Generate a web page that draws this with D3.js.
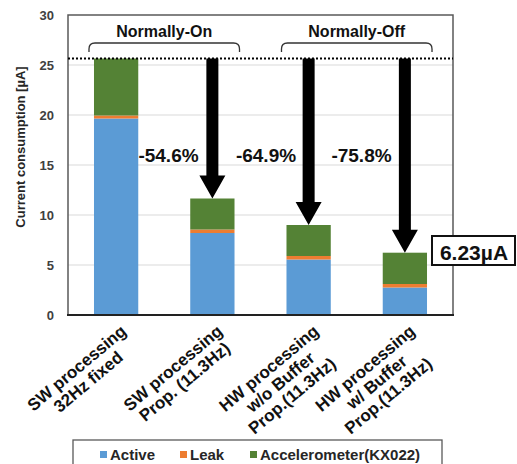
<!DOCTYPE html>
<html>
<head>
<meta charset="utf-8">
<script src="https://cdn.jsdelivr.net/npm/d3@7"></script>
<style>
  html, body { margin: 0; padding: 0; background: #fff; }
  svg { display: block; font-family: "Liberation Sans", Arial, sans-serif; }
</style>
</head>
<body>
<svg id="chart" width="517" height="464"></svg>
<script>
// ---------- data ----------
const categories = ["SW processing 32Hz fixed", "SW processing Prop. (11.3Hz)",
  "HW processing w/o Buffer Prop.(11.3Hz)", "HW processing w/ Buffer Prop.(11.3Hz)"];
const categoryLines = [
  ["SW processing", "32Hz fixed"],
  ["SW processing", "Prop. (11.3Hz)"],
  ["HW processing", "w/o Buffer", "Prop.(11.3Hz)"],
  ["HW processing", "w/ Buffer", "Prop.(11.3Hz)"]
];
const seriesNames = ["Active", "Leak", "Accelerometer(KX022)"];
const active = [19.65, 8.2, 5.55, 2.75];
const leak = [0.3, 0.35, 0.35, 0.35];
const accelerometer = [5.7, 3.1, 3.1, 3.13];
const reductionLabels = ["-54.6%", "-64.9%", "-75.8%"];
const groupLabels = ["Normally-On", "Normally-Off"];
const groupSpans = [[0, 1], [2, 3]];
const yTicks = [0, 5, 10, 15, 20, 25, 30];
const finalLabel = "6.23µA";
const colors = ["#5B9BD5", "#ED7D31", "#548235"];

// ---------- layout ----------
const svg = d3.select("#chart");
const pL = 68, pR = 453, pT = 15, pB = 315;

const x = d3.scaleBand().domain(categories).range([pL, pR])
  .paddingInner(0.54).paddingOuter(0.27);
const y = d3.scaleLinear().domain([0, 30]).range([pB, pT]);

const rows = categories.map((c, i) => ({ cat: c, Active: active[i], Leak: leak[i], "Accelerometer(KX022)": accelerometer[i] }));
const stacked = d3.stack().keys(seriesNames)(rows);
const totals = categories.map((c, i) => active[i] + leak[i] + accelerometer[i]);

// gridlines
svg.append("g").selectAll("line").data(yTicks.filter(t => t > 0 && t < 30)).join("line")
  .attr("x1", pL).attr("x2", pR)
  .attr("y1", d => y(d)).attr("y2", d => y(d))
  .attr("stroke", "#d9d9d9").attr("stroke-width", 1);

// bars
svg.append("g").selectAll("g").data(stacked).join("g")
  .attr("fill", (d, i) => colors[i])
  .selectAll("rect").data(d => d).join("rect")
  .attr("x", d => x(d.data.cat))
  .attr("width", x.bandwidth())
  .attr("y", d => y(d[1]))
  .attr("height", d => y(d[0]) - y(d[1]));

// plot frame
svg.append("path")
  .attr("d", `M${pL},${pB} V${pT} H${pR} V${pB}`)
  .attr("fill", "none").attr("stroke", "#595959").attr("stroke-width", 1.5);
svg.append("line").attr("x1", pL - 1).attr("x2", pR + 1)
  .attr("y1", pB).attr("y2", pB)
  .attr("stroke", "#222").attr("stroke-width", 2);

// y axis tick labels
const yAxis = d3.axisLeft(y).tickValues(yTicks).tickSize(0).tickPadding(14);
const gy = svg.append("g").attr("transform", `translate(${pL},0)`).call(yAxis);
gy.select(".domain").remove();
gy.selectAll("text").attr("font-size", 13).attr("font-weight", "bold")
  .attr("fill", "#404040").attr("font-family", "Liberation Sans, Arial, sans-serif");

// y title
svg.append("text")
  .attr("transform", `translate(25,147) rotate(-90)`)
  .attr("text-anchor", "middle")
  .attr("font-size", 13).attr("font-weight", "bold").attr("fill", "#262626")
  .text("Current consumption [µA]");

// x labels (rotated, lines centred, block's top-right at the tick)
categories.forEach((c, i) => {
  const cx = x(c) + x.bandwidth() / 2;
  const g = svg.append("g").attr("transform", `translate(${cx + 3},${pB + 8}) rotate(-40)`);
  const texts = categoryLines[i].map((line, j) =>
    g.append("text").attr("font-size", 17).attr("font-weight", "bold").attr("fill", "#111")
      .attr("text-anchor", "middle").attr("y", 13 + j * 18).text(line));
  const maxW = d3.max(texts, t => t.node().getComputedTextLength());
  texts.forEach(t => t.attr("x", -maxW / 2));
});

// dotted reference line at first total
svg.append("line").attr("x1", pL).attr("x2", pR)
  .attr("y1", y(totals[0])).attr("y2", y(totals[0]))
  .attr("stroke", "#000").attr("stroke-width", 1.8).attr("stroke-dasharray", "2,2");

// arrows
const shaftW = 12, headW = 26, headL = 23;
for (let i = 1; i < categories.length; i++) {
  const cx = x(categories[i]) + x.bandwidth() / 2;
  const y0 = y(totals[0]), y1 = y(totals[i]);
  svg.append("path")
    .attr("d", `M${cx - shaftW / 2},${y0} V${y1 - headL} H${cx - headW / 2} L${cx},${y1} L${cx + headW / 2},${y1 - headL} H${cx + shaftW / 2} V${y0} Z`)
    .attr("fill", "#000");
}

// reduction labels
const redX = [168.5, 266, 361.5];
reductionLabels.forEach((t, i) => {
  svg.append("text").attr("x", redX[i]).attr("y", 162)
    .attr("text-anchor", "middle").attr("font-size", 19).attr("font-weight", "bold")
    .attr("fill", "#111").text(t);
});

// group braces and labels
groupLabels.forEach((lab, k) => {
  const [a, b] = groupSpans[k];
  const x0 = x(categories[a]) - 5, x1 = x(categories[b]) + x.bandwidth() + 5;
  const yt = 43, yb = 52, r = 6;
  svg.append("path")
    .attr("d", `M${x0},${yb} V${yt + r} Q${x0},${yt} ${x0 + r},${yt} H${x1 - r} Q${x1},${yt} ${x1},${yt + r} V${yb}`)
    .attr("fill", "none").attr("stroke", "#333").attr("stroke-width", 1.3);
  svg.append("text").attr("x", (x0 + x1) / 2).attr("y", 37)
    .attr("text-anchor", "middle").attr("font-size", 16).attr("font-weight", "bold")
    .attr("fill", "#111").text(lab);
});

// final value box
svg.append("rect").attr("x", 432).attr("y", 236).attr("width", 83).attr("height", 29)
  .attr("fill", "#fff").attr("stroke", "#111").attr("stroke-width", 2);
svg.append("text").attr("x", 474).attr("y", 259.5).attr("text-anchor", "middle")
  .attr("font-size", 21).attr("font-weight", "bold").attr("fill", "#111").text(finalLabel);

// legend
svg.append("rect").attr("x", 73).attr("y", 440).attr("width", 369).attr("height", 40)
  .attr("fill", "#fff").attr("stroke", "#595959").attr("stroke-width", 1.3);
const legX = [100, 180, 250];
seriesNames.forEach((s, i) => {
  svg.append("rect").attr("x", legX[i]).attr("y", 451).attr("width", 7).attr("height", 7)
    .attr("fill", colors[i]);
  svg.append("text").attr("x", legX[i] + 10).attr("y", 460)
    .attr("font-size", 15).attr("font-weight", "bold").attr("fill", "#262626").text(s);
});
</script>
</body>
</html>
